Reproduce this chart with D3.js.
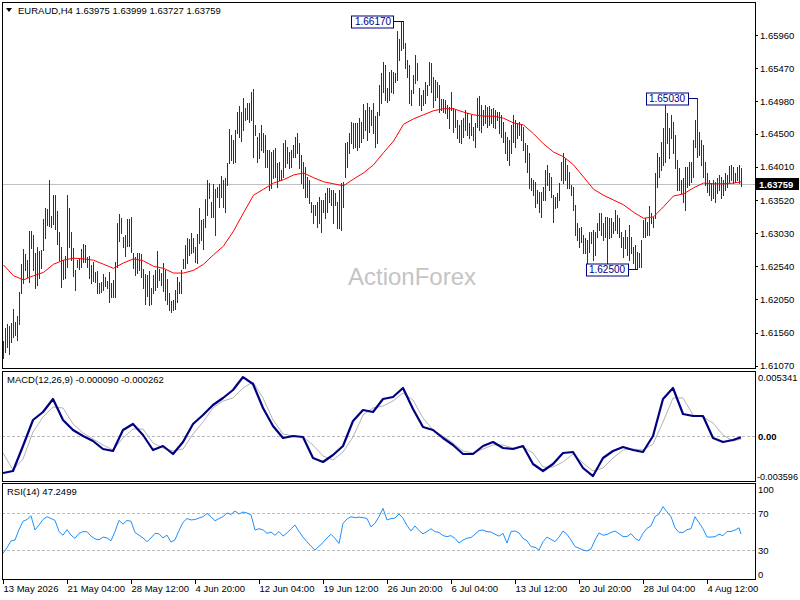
<!DOCTYPE html>
<html><head><meta charset="utf-8">
<script src="https://cdn.jsdelivr.net/npm/d3@7"></script>
<style>
html,body{margin:0;padding:0;background:#fff}
svg{display:block}
text{font-family:"Liberation Sans",Arial,sans-serif}
</style>
</head><body>
<svg id="c" width="800" height="600"></svg>
<script>
const symbol = "EURAUD,H4";
const lastOHLC = [1.63975, 1.63999, 1.63727, 1.63759];

const barHigh = [
1.6143,1.6163,1.6168,1.6166,1.6170,1.6191,1.6171,1.6180,1.6216,1.6257,
1.6279,1.6272,1.6263,1.6306,1.6306,1.6300,1.6274,1.6282,1.6277,1.6278,
1.6324,1.6340,1.6339,1.6382,1.6328,1.6359,1.6359,1.6336,1.6305,1.6282,
1.6263,1.6269,1.6359,1.6340,1.6305,1.6281,1.6248,1.6263,1.6265,1.6279,
1.6287,1.6285,1.6268,1.6269,1.6256,1.6260,1.6245,1.6247,1.6229,1.6231,
1.6242,1.6238,1.6232,1.6245,1.6229,1.6234,1.6260,1.6318,1.6331,1.6325,
1.6297,1.6300,1.6324,1.6324,1.6327,1.6274,1.6268,1.6274,1.6274,1.6272,
1.6250,1.6242,1.6241,1.6247,1.6222,1.6241,1.6248,1.6277,1.6250,1.6244,
1.6259,1.6248,1.6235,1.6214,1.6203,1.6204,1.6219,1.6238,1.6231,1.6248,
1.6265,1.6285,1.6296,1.6294,1.6303,1.6296,1.6282,1.6302,1.6340,1.6322,
1.6324,1.6353,1.6382,1.6377,1.6349,1.6376,1.6368,1.6371,1.6376,1.6388,
1.6382,1.6385,1.6407,1.6457,1.6448,1.6441,1.6456,1.6482,1.6491,1.6482,
1.6503,1.6488,1.6496,1.6496,1.6512,1.6516,1.6463,1.6445,1.6451,1.6463,
1.6451,1.6448,1.6426,1.6426,1.6423,1.6426,1.6429,1.6407,1.6408,1.6396,
1.6436,1.6441,1.6430,1.6423,1.6426,1.6433,1.6445,1.6451,1.6436,1.6419,
1.6408,1.6401,1.6386,1.6382,1.6349,1.6345,1.6345,1.6349,1.6356,1.6352,
1.6352,1.6362,1.6370,1.6370,1.6367,1.6367,1.6362,1.6349,1.6367,1.6377,
1.6379,1.6436,1.6438,1.6451,1.6467,1.6466,1.6466,1.6466,1.6473,1.6467,
1.6494,1.6485,1.6496,1.6490,1.6485,1.6496,1.6476,1.6482,1.6522,1.6540,
1.6556,1.6552,1.6518,1.6541,1.6544,1.6541,1.6540,1.6602,1.6590,1.6615,
1.6617,1.6584,1.6559,1.6552,1.6515,1.6537,1.6567,1.6555,1.6518,1.6507,
1.6515,1.6527,1.6522,1.6556,1.6555,1.6534,1.6530,1.6527,1.6522,1.6501,
1.6501,1.6500,1.6493,1.6490,1.6512,1.6488,1.6485,1.6470,1.6463,1.6470,
1.6473,1.6485,1.6481,1.6466,1.6478,1.6460,1.6466,1.6503,1.6506,1.6493,
1.6485,1.6493,1.6490,1.6491,1.6487,1.6488,1.6485,1.6482,1.6482,1.6478,
1.6467,1.6453,1.6445,1.6441,1.6463,1.6478,1.6470,1.6466,1.6467,1.6463,
1.6460,1.6436,1.6433,1.6422,1.6385,1.6382,1.6379,1.6367,1.6364,1.6364,
1.6371,1.6396,1.6404,1.6392,1.6386,1.6359,1.6356,1.6362,1.6377,1.6408,
1.6422,1.6414,1.6404,1.6393,1.6374,1.6371,1.6345,1.6318,1.6311,1.6312,
1.6300,1.6296,1.6293,1.6305,1.6305,1.6308,1.6305,1.6318,1.6333,1.6333,
1.6318,1.6327,1.6327,1.6325,1.6325,1.6319,1.6337,1.6330,1.6325,1.6305,
1.6297,1.6308,1.6297,1.6315,1.6297,1.6282,1.6285,1.6275,1.6274,1.6293,
1.6322,1.6325,1.6319,1.6343,1.6333,1.6327,1.6392,1.6422,1.6416,1.6438,
1.6459,1.6493,1.6481,1.6459,1.6478,1.6467,1.6448,1.6411,1.6399,1.6382,
1.6385,1.6401,1.6401,1.6408,1.6408,1.6441,1.6470,1.6503,1.6453,1.6441,
1.6433,1.6408,1.6392,1.6382,1.6377,1.6382,1.6379,1.6385,1.6389,1.6386,
1.6382,1.6392,1.6389,1.6402,1.6404,1.6401,1.6392,1.6401,1.6404,1.63999
];
const barLow = [
1.6118,1.6127,1.6134,1.6124,1.6142,1.6149,1.6152,1.6145,1.6168,1.6214,
1.6229,1.6248,1.6238,1.6231,1.6281,1.6248,1.6222,1.6226,1.6237,1.6251,
1.6278,1.6296,1.6315,1.6314,1.6312,1.6316,1.6309,1.6287,1.6263,1.6223,
1.6235,1.6237,1.6253,1.6282,1.6263,1.6240,1.6219,1.6253,1.6250,1.6253,
1.6260,1.6260,1.6253,1.6237,1.6229,1.6232,1.6231,1.6214,1.6214,1.6216,
1.6219,1.6225,1.6222,1.6201,1.6208,1.6208,1.6208,1.6253,1.6291,1.6303,
1.6282,1.6269,1.6284,1.6284,1.6275,1.6251,1.6241,1.6244,1.6248,1.6238,
1.6222,1.6198,1.6210,1.6197,1.6198,1.6214,1.6219,1.6223,1.6234,1.6226,
1.6217,1.6204,1.6198,1.6189,1.6186,1.6189,1.6191,1.6201,1.6214,1.6214,
1.6251,1.6251,1.6259,1.6271,1.6274,1.6275,1.6260,1.6259,1.6288,1.6293,
1.6279,1.6312,1.6330,1.6355,1.6327,1.6327,1.6300,1.6356,1.6342,1.6356,
1.6342,1.6334,1.6374,1.6407,1.6411,1.6407,1.6408,1.6451,1.6445,1.6439,
1.6456,1.6470,1.6472,1.6467,1.6470,1.6416,1.6448,1.6408,1.6414,1.6426,
1.6423,1.6401,1.6401,1.6367,1.6370,1.6385,1.6386,1.6371,1.6382,1.6382,
1.6386,1.6401,1.6407,1.6399,1.6401,1.6416,1.6416,1.6422,1.6399,1.6377,
1.6370,1.6356,1.6356,1.6348,1.6334,1.6318,1.6330,1.6312,1.6318,1.6305,
1.6334,1.6325,1.6334,1.6349,1.6345,1.6318,1.6345,1.6311,1.6311,1.6308,
1.6342,1.6386,1.6401,1.6422,1.6436,1.6429,1.6430,1.6426,1.6430,1.6438,
1.6444,1.6456,1.6441,1.6453,1.6463,1.6451,1.6430,1.6436,1.6478,1.6496,
1.6512,1.6500,1.6497,1.6500,1.6512,1.6510,1.6527,1.6530,1.6559,1.6574,
1.6577,1.6547,1.6534,1.6496,1.6493,1.6510,1.6525,1.6530,1.6493,1.6485,
1.6493,1.6496,1.6507,1.6522,1.6512,1.6490,1.6500,1.6504,1.6482,1.6485,
1.6482,1.6481,1.6473,1.6459,1.6485,1.6453,1.6460,1.6444,1.6438,1.6436,
1.6445,1.6456,1.6448,1.6444,1.6448,1.6441,1.6430,1.6460,1.6456,1.6453,
1.6463,1.6466,1.6460,1.6463,1.6466,1.6460,1.6459,1.6470,1.6451,1.6445,
1.6438,1.6422,1.6411,1.6404,1.6422,1.6438,1.6430,1.6444,1.6448,1.6441,
1.6426,1.6408,1.6393,1.6370,1.6367,1.6359,1.6342,1.6348,1.6334,1.6327,
1.6352,1.6352,1.6374,1.6367,1.6356,1.6319,1.6340,1.6342,1.6352,1.6382,
1.6377,1.6382,1.6370,1.6370,1.6359,1.6337,1.6300,1.6293,1.6282,1.6290,
1.6274,1.6274,1.6259,1.6275,1.6288,1.6263,1.6271,1.6297,1.6308,1.6300,
1.6293,1.6297,1.6256,1.6296,1.6297,1.6303,1.6308,1.6303,1.6297,1.6282,
1.6268,1.6281,1.6271,1.6263,1.6274,1.6259,1.6251,1.6250,1.6253,1.6253,
1.6297,1.6297,1.6300,1.6300,1.6318,1.6312,1.6325,1.6371,1.6386,1.6396,
1.6404,1.6408,1.6436,1.6414,1.6444,1.6422,1.6399,1.6367,1.6367,1.6362,
1.6349,1.6337,1.6371,1.6374,1.6379,1.6386,1.6430,1.6416,1.6419,1.6404,
1.6386,1.6374,1.6364,1.6359,1.6352,1.6355,1.6349,1.6362,1.6367,1.6355,
1.6359,1.6367,1.6371,1.6379,1.6382,1.6377,1.6379,1.6382,1.6377,1.63727
];

// moving average, MACD and signal, read every 5 bars (plus last bar)
const maValues = [
1.6256,1.6240,1.6234,1.6240,1.6245,1.6257,1.6263,1.6266,1.6265,1.6263,
1.6257,1.6251,1.6259,1.6265,1.6262,1.6254,1.6251,1.6244,1.6244,1.6248,
1.6257,1.6271,1.6284,1.6306,1.6333,1.6359,1.6368,1.6377,1.6382,1.6389,
1.6392,1.6385,1.6379,1.6376,1.6373,1.6383,1.6392,1.6404,1.6422,1.6439,
1.6464,1.6472,1.6478,1.6484,1.6487,1.6487,1.6482,1.6478,1.6476,1.6476,
1.6473,1.6466,1.6463,1.6450,1.6435,1.6423,1.6416,1.6404,1.6386,1.6368,
1.6359,1.6352,1.6345,1.6334,1.6325,1.6327,1.6342,1.6358,1.6361,1.6370,
1.6377,1.6376,1.6376,1.6377,1.6379
];
const macdValues = [
-0.003322,-0.003142,-0.000885,0.001463,0.002185,0.003358,0.001463,0.000560,0.000018,-0.000433,
-0.001156,-0.001336,0.000560,0.001101,0.000108,-0.001246,-0.000885,-0.001607,-0.000524,0.001101,
0.001914,0.002817,0.003449,0.004171,0.005341,0.004713,0.002546,0.000921,-0.000163,0.000018,
-0.000072,-0.001968,-0.002329,-0.001697,-0.000885,0.001372,0.002365,0.002185,0.003358,0.003539,
0.004351,0.002456,0.000831,0.000560,-0.000163,-0.000794,-0.001607,-0.001607,-0.000885,-0.000524,
-0.001065,-0.001156,-0.000885,-0.002510,-0.003142,-0.002510,-0.001517,-0.001426,-0.002871,-0.003596,
-0.001968,-0.001336,-0.000975,-0.001246,-0.001426,0.000018,0.003358,0.004351,0.002004,0.001824,
0.001824,-0.000163,-0.000524,-0.000343,-0.000090
];
const signalValues = [
-0.001517,-0.003051,-0.002058,0.000379,0.001733,0.002636,0.002546,0.001101,0.000289,-0.000253,
-0.000794,-0.001246,-0.000163,0.000650,0.000650,-0.000614,-0.001065,-0.001336,-0.001156,0.000199,
0.001282,0.002546,0.003178,0.003449,0.004351,0.004893,0.003449,0.001463,0.000199,0.000018,
-0.000072,-0.000794,-0.001788,-0.002149,-0.001426,-0.000072,0.001914,0.002546,0.002726,0.003178,
0.003900,0.003268,0.001643,0.000560,0.000018,-0.000614,-0.001336,-0.001517,-0.001156,-0.000794,
-0.000794,-0.001065,-0.000975,-0.001517,-0.002781,-0.002781,-0.002329,-0.001607,-0.002420,-0.003142,
-0.002871,-0.001968,-0.001246,-0.001156,-0.001246,-0.000704,0.001282,0.003449,0.003449,0.001914,
0.001733,0.001192,0.000108,-0.000433,-0.000262
];
// RSI read every 2 bars (plus last bar)
const rsiValues = [
26.4,32.5,39.7,40.8,52,61,63,67,51.6,57,
63,66,64,62,50,46,52,46,42.6,48,
49.8,49.8,45,42,41,44,43,40,50,62,
58,62,61,49,46,43,39,43,48,47.5,
43,46,38.5,41,51,60,64,62.5,63,64.5,
66,69.5,66,61.5,64,66,70,68.5,72.2,69,
71,70,68,51.6,53,51.8,48,49.3,46,50,
45,48.5,53,57,50,44,39,34,30,34,
38,43,47,42.6,37,58.9,63.5,66,64.9,65.6,
65,64,55,58.9,66,75,62.4,64,64.5,69,
64.3,56.5,50.5,56,51,47.5,50,53,49.8,49,
45.5,44.5,45.5,42.6,37.5,40.8,42.8,43.5,47,51,
51.6,49.8,49.5,47,45,48,37.5,50,50.5,48.5,
42.6,40,33.6,33,30,39,44,41.5,39,44,
50.5,47,40.8,33.6,32,30,29,31.1,40.8,48.5,
46,46.8,49,50.5,47.7,44.5,44.5,47.7,42.6,40,
48,53.5,56,66,69,76.8,71.2,66,54,49,
49,52,53,66,59.5,53,44,44,44.4,47,
45.5,50,50,51.6,54,47.2499
];

const priceTicks = [1.65960,1.65470,1.64980,1.64500,1.64010,1.63520,1.63030,1.62540,1.62050,1.61560,1.61070];
const macdTicks = [0.005341, 0, -0.003596];
const macdTickText = ["0.005341","0.00","-0.003596"];
const rsiTicks = [100, 70, 30, 0];
const rsiLevels = [70, 30];
const timeLabels = ["13 May 2026","21 May 04:00","28 May 12:00","4 Jun 20:00","12 Jun 04:00","19 Jun 12:00","26 Jun 20:00","6 Jul 04:00","13 Jul 12:00","20 Jul 20:00","28 Jul 04:00","4 Aug 12:00"];
const timeLabelEvery = 32; // bars between labels
const annoBars = [200, 347, 317];
const annoPrices = [1.66170, 1.65030, 1.62500];

// ---------------- drawing ----------------
const svg = d3.select("#c");
const nBars = barHigh.length;
const L = 2, R = 755;
const P = { main:[2,368], macd:[371,481], rsi:[483,579] };

const x = d3.scaleLinear().domain([0, nBars-1]).range([3, 3 + 2*(nBars-1)]);
const yMain = d3.scaleLinear().domain([1.61036, 1.66448]).range([368, 2]);
const yMacd = d3.scaleLinear().domain([-0.004044, 0.005886]).range([481, 371]);
const yRsi = d3.scaleLinear().domain([0, 100]).range([577.75, 485.25]);

const idx5 = d3.range(0, nBars, 5).concat([nBars-1]);
const idx2 = d3.range(0, nBars, 2).concat([nBars-1]);

svg.append("rect").attr("width",800).attr("height",600).attr("fill","#fff");

const defs = svg.append("defs");
Object.entries(P).forEach(([k,[t,b]])=>{
  defs.append("clipPath").attr("id","clip-"+k).append("rect")
    .attr("x",L+1).attr("y",t+1).attr("width",R-L-1).attr("height",b-t-1);
});

// main panel
const gMain = svg.append("g").attr("clip-path","url(#clip-main)");
gMain.append("text").attr("x",348).attr("y",285).attr("font-size",24)
  .attr("fill","#c4c4c4").text("ActionForex");
gMain.append("line").attr("x1",L).attr("x2",R)
  .attr("y1",Math.round(yMain(lastOHLC[3]))+0.5).attr("y2",Math.round(yMain(lastOHLC[3]))+0.5)
  .attr("stroke","#c0c0c0").attr("stroke-width",1);
gMain.append("g").selectAll("line").data(d3.range(nBars)).join("line")
  .attr("x1",i=>x(i)+0.5).attr("x2",i=>x(i)+0.5)
  .attr("y1",i=>Math.round(yMain(barHigh[i])))
  .attr("y2",i=>Math.round(yMain(barLow[i]))+1)
  .attr("stroke","#0e3c5e").attr("stroke-width",1).attr("shape-rendering","crispEdges");
gMain.append("path").datum(idx5.map((b,k)=>[b,maValues[k]]))
  .attr("fill","none").attr("stroke","#ff0000").attr("stroke-width",1)
  .attr("d",d3.line().x(d=>x(d[0])+0.5).y(d=>yMain(d[1])));

// annotations
annoBars.forEach((b,k)=>{
  const p = annoPrices[k];
  const yy = Math.round(yMain(p))+0.5;
  const bx = x(b)+0.5;
  const w = 42, h = 12;
  const right = bx - 10;
  svg.append("line").attr("x1",right).attr("x2",bx).attr("y1",yy).attr("y2",yy)
    .attr("stroke","#000080").attr("stroke-width",1);
  svg.append("rect").attr("x",Math.round(right-w)+0.5).attr("y",Math.round(yy-h/2)).attr("width",w).attr("height",h)
    .attr("fill","#fff").attr("stroke","#000080").attr("stroke-width",1);
  svg.append("text").attr("x",right-w/2+0.5).attr("y",yy+3.8).attr("text-anchor","middle")
    .attr("font-size",10).attr("fill","#000080").text(p.toFixed(5));
});

// MACD panel
const gMacd = svg.append("g").attr("clip-path","url(#clip-macd)");
gMacd.append("line").attr("x1",L).attr("x2",R).attr("y1",Math.round(yMacd(0))+0.5).attr("y2",Math.round(yMacd(0))+0.5)
  .attr("stroke","#b8b8b8").attr("stroke-dasharray","3,2");
gMacd.append("path").datum(idx5.map((b,k)=>[b,signalValues[k]]))
  .attr("fill","none").attr("stroke","#b4b4b4").attr("stroke-width",1)
  .attr("d",d3.line().x(d=>x(d[0])).y(d=>yMacd(d[1])));
gMacd.append("path").datum(idx5.map((b,k)=>[b,macdValues[k]]))
  .attr("fill","none").attr("stroke","#000080").attr("stroke-width",2.2)
  .attr("stroke-linejoin","round")
  .attr("d",d3.line().x(d=>x(d[0])).y(d=>yMacd(d[1])));

// RSI panel
const gRsi = svg.append("g").attr("clip-path","url(#clip-rsi)");
rsiLevels.forEach(v=>{
  const yy = Math.round(yRsi(v))+0.5;
  gRsi.append("line").attr("x1",L).attr("x2",R).attr("y1",yy).attr("y2",yy)
    .attr("stroke","#b8b8b8").attr("stroke-dasharray","3,2");
});
gRsi.append("path").datum(idx2.map((b,k)=>[b,rsiValues[k]]))
  .attr("fill","none").attr("stroke","#1e90ff").attr("stroke-width",1)
  .attr("d",d3.line().x(d=>x(d[0])).y(d=>yRsi(d[1])));

// frames
Object.values(P).forEach(([t,b])=>{
  svg.append("rect").attr("x",L+0.5).attr("y",t+0.5).attr("width",R-L).attr("height",b-t)
    .attr("fill","none").attr("stroke","#000").attr("stroke-width",1);
});

// right axes
const fs = 9.5;
priceTicks.forEach(v=>{
  const yy = yMain(v);
  svg.append("line").attr("x1",R).attr("x2",R+3).attr("y1",Math.round(yy)+0.5).attr("y2",Math.round(yy)+0.5).attr("stroke","#000");
  svg.append("text").attr("x",760).attr("y",yy+3.5).attr("font-size",fs).attr("fill","#000").text(v.toFixed(5));
});
{
  const yy = Math.round(yMain(lastOHLC[3]));
  svg.append("rect").attr("x",R+1).attr("y",yy-6).attr("width",43).attr("height",12).attr("fill","#000");
  svg.append("text").attr("x",759).attr("y",yy+3.5).attr("font-size",fs).attr("font-weight","bold")
    .attr("fill","#fff").text(lastOHLC[3].toFixed(5));
}
const clampY = (v,t,b)=>Math.max(t+6,Math.min(b-5,v));
macdTicks.forEach((v,k)=>{
  const yy = clampY(yMacd(v),P.macd[0],P.macd[1]);
  const txt = svg.append("text").attr("x",758).attr("y",yy+3.5).attr("font-size",fs).attr("fill","#000")
    .attr("font-weight", v===0 ? "bold" : "normal").text(macdTickText[k]);
  if (v < 0) txt.attr("x",757).attr("textLength",41).attr("lengthAdjust","spacingAndGlyphs");
});
rsiTicks.forEach(v=>{
  const yy = clampY(yRsi(v),P.rsi[0],P.rsi[1]);
  svg.append("text").attr("x",758).attr("y",yy+3.5).attr("font-size",fs).attr("fill","#000").text(String(v));
});

// time axis
timeLabels.forEach((t,k)=>{
  const xx = x(k*timeLabelEvery)+0.5;
  svg.append("line").attr("x1",xx).attr("x2",xx).attr("y1",579).attr("y2",584).attr("stroke","#000");
  svg.append("text").attr("x",xx).attr("y",592).attr("font-size",fs).attr("fill","#000").text(t);
});

// titles
svg.append("path").attr("d","M6,8 L12,8 L9,12 Z").attr("fill","#000");
svg.append("text").attr("x",18).attr("y",14).attr("font-size",fs).attr("fill","#000")
  .text(symbol + "  " + lastOHLC.map(v=>v.toFixed(5)).join(" "));
svg.append("text").attr("x",7).attr("y",383).attr("font-size",fs).attr("fill","#000")
  .text("MACD(12,26,9) " + macdValues[macdValues.length-1].toFixed(6) + " " + signalValues[signalValues.length-1].toFixed(6));
svg.append("text").attr("x",7).attr("y",495).attr("font-size",fs).attr("fill","#000")
  .text("RSI(14) " + rsiValues[rsiValues.length-1].toFixed(4));
</script>
</body></html>
